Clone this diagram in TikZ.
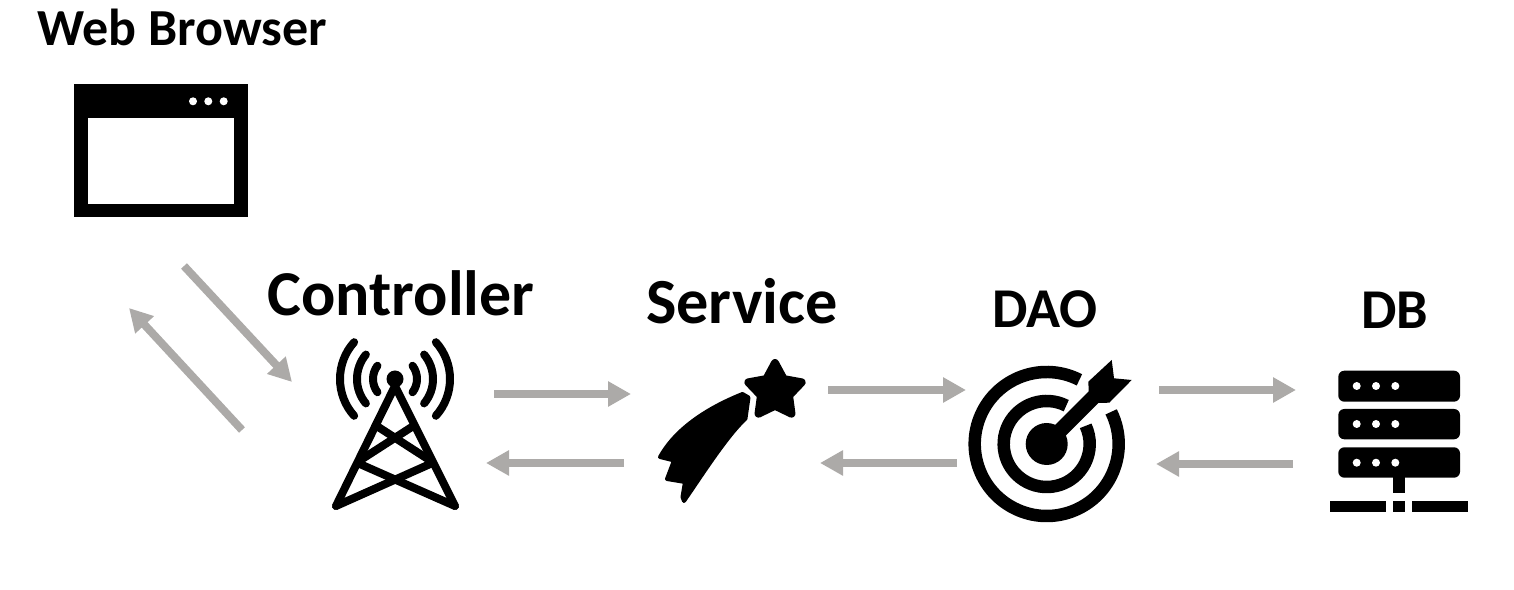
\documentclass[tikz,border=0pt]{standalone}
\usepackage{fontspec}
\setmainfont{Carlito}
\usetikzlibrary{arrows.meta,shapes.geometric}

\begin{document}
\begin{tikzpicture}[
	x=0.02cm,
	y=0.02cm,
	flow/.style ={line width=0.16cm, color=flowgray, -{Triangle[length=0.46cm,width=0.48cm]}},
	title/.style ={font=\bfseries\fontsize{#1}{#1}\selectfont, anchor=base, inner sep=0pt},
	iconline/.style ={line width=0.16cm, color=black, line cap=round, line join=round},
	ring/.style ={line width=0.25cm, color=black},
	pip/.style ={fill=white}]

	\definecolor{flowgray}{RGB}{172,170,168}

	\useasboundingbox (0,0) rectangle (1514,-590);

	% labels
	\node [title=29.6] (browser) at (182,-46) {Web Browser};
	\node [title=36.4] (controller) at (401,-316) {Controller};
	\node [title=36.6] (service) at (742,-324) {Service};
	\node [title=32] (dao) at (1045,-328) {DAO};
	\node [title=32] (db) at (1395,-329) {DB};

	% web browser window
	\fill (74.3,-84.3) rectangle (247.7,-216.7);
	\fill [white] (87.7,-118.3) rectangle (234.3,-204);
	\foreach \x in {193,208.3,223.7}
		\fill [pip] (\x,-101.3) circle (4);

	% tower
	\coordinate (Top) at (395,-379);
	\coordinate (BaseL) at (336,-506);
	\coordinate (BaseR) at (455,-506);
	\fill (Top) circle (8.5);
	\draw [iconline] (BaseL) -- (395,-386) -- (BaseR);
	\draw [iconline] (376.7,-426) -- (428.3,-459.3);
	\draw [iconline] (413.3,-426) -- (361.7,-459.3);
	\draw [iconline] (358.3,-463.3) -- (BaseR);
	\draw [iconline] (431.7,-463.3) -- (BaseL);
	\foreach \r/\a in {22/37,38/40,55/42}
	{
		\draw [iconline] (Top) ++(180-\a:\r) arc (180-\a:180+\a:\r);
		\draw [iconline] (Top) ++(\a:\r) arc (\a:-\a:\r);
	}

	% shooting star
	\node [star, star points=5, star point ratio=1.9, fill, draw, line width=0.16cm, line join=round,
		minimum size=1.12cm, inner sep=0pt] (staricon) at (775,-391) {};
	\fill [draw, line width=0.08cm, line join=round] (742.5,-394) -- (748.5,-397.5) -- (745.5,-418.5)
		.. controls (726,-437) and (702,-475) .. (684,-501)
		-- (682.5,-497) -- (685,-482) -- (667,-479) -- (674,-460.5) -- (660,-457)
		.. controls (675,-430) and (705,-409) .. (742.5,-394) -- cycle;

	% target
	\coordinate (Mid) at (1046.7,-444);
	\draw [ring] (Mid) ++(63:72) arc (63:386.5:72);
	\draw [ring] (Mid) ++(63:43) arc (63:385:43);
	\fill (Mid) circle (21);
	\draw [line width=0.3cm] (Mid) -- (1095,-395.7);
	\fill (1088.3,-381.7) -- (1111.7,-360) -- (1114,-378.3) -- (1131.7,-380)
		-- (1109.3,-402.7) -- (1096.7,-403) -- (1089,-396.7) -- cycle;

	% database
	\foreach \yt/\yb/\yd in {370.7/401.7/386,409/439.3/424,447.3/477.7/462.7}
	{
		\fill [rounded corners=0.12cm] (1338.3,-\yt) rectangle (1460,-\yb);
		\foreach \x in {1356.7,1376,1395.3}
			\fill [pip] (\x,-\yd) circle (4);
	}
	\fill (1393.3,-477) rectangle (1405,-492.7);
	\fill (1330,-500.7) rectangle (1385.7,-512.3);
	\fill (1393.3,-500.7) rectangle (1405,-512.3);
	\fill (1412.3,-500.7) rectangle (1467.7,-512.3);

	% arrows
	\coordinate (BrowserOut) at (184,-266);
	\coordinate (TowerIn) at (292,-382);
	\coordinate (TowerOut) at (242,-430);
	\coordinate (BrowserIn) at (129,-308);
	\draw [flow] (BrowserOut) -- (TowerIn);
	\draw [flow] (TowerOut) -- (BrowserIn);

	\coordinate (A1) at (494,-394);
	\coordinate (A2) at (631,-394);
	\coordinate (B1) at (624,-463);
	\coordinate (B2) at (486,-463);
	\coordinate (C1) at (828,-390);
	\coordinate (C2) at (966,-390);
	\coordinate (D1) at (957,-463);
	\coordinate (D2) at (820,-463);
	\coordinate (E1) at (1159,-390);
	\coordinate (E2) at (1296,-390);
	\coordinate (F1) at (1293,-464);
	\coordinate (F2) at (1156,-464);
	\foreach \s/\e in {A1/A2,B1/B2,C1/C2,D1/D2,E1/E2,F1/F2}
		\draw [flow] (\s) -- (\e);

\end{tikzpicture}
\end{document}
